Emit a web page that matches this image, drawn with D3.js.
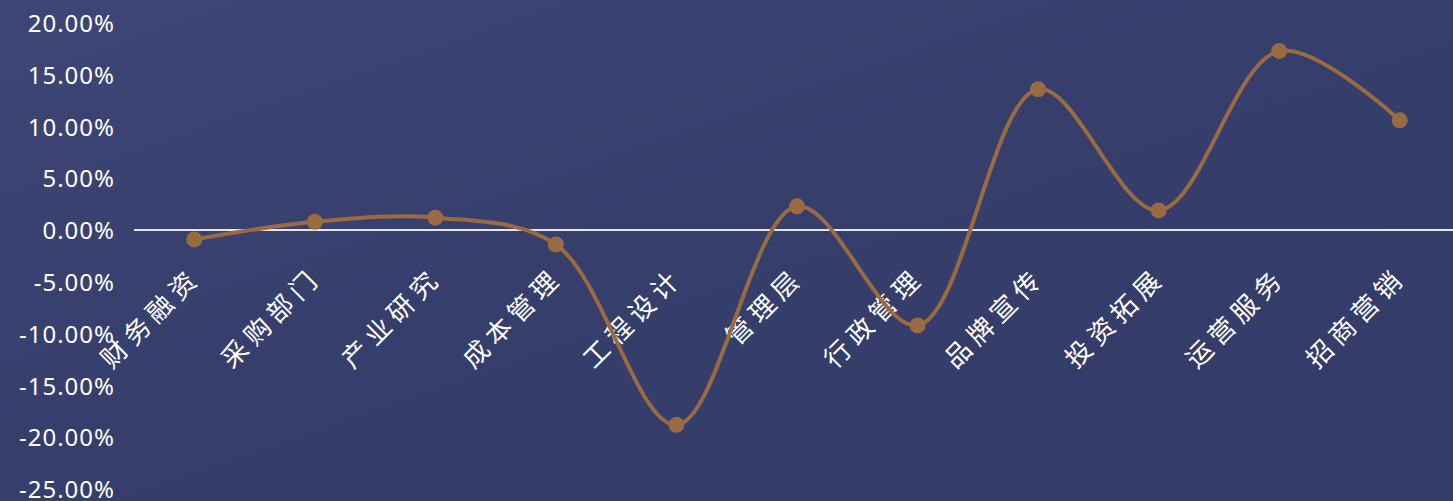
<!DOCTYPE html>
<html>
<head>
<meta charset="utf-8">
<script src="https://cdn.jsdelivr.net/npm/d3@7"></script>
<style>
  html, body { margin: 0; padding: 0; background: #343c6a; overflow: hidden; }
  svg { display: block; font-family: "Noto Sans CJK SC", "Noto Sans", sans-serif; }
</style>
</head>
<body>
<div id="chart"></div>
<script>
const categories = ["财务融资", "采购部门", "产业研究", "成本管理", "工程设计", "管理层",
    "行政管理", "品牌宣传", "投资拓展", "运营服务", "招商营销"];
const growth = [-0.9, 0.8, 1.2, -1.4, -18.8, 2.3, -9.2, 13.6, 1.9, 17.3, 10.6];
const yTicks = [20, 15, 10, 5, 0, -5, -10, -15, -20, -25];

const width = 1453, height = 501;
const margin = {top: 23, right: -7, bottom: 12, left: 134};

const svg = d3.select("#chart")
    .append("svg")
    .attr("width", width)
    .attr("height", height);

// background
let defs = svg.append("defs");
let grad = defs.append("linearGradient")
    .attr("id", "bg")
    .attr("x1", 0).attr("y1", 0).attr("x2", 1).attr("y2", 1);
grad.append("stop").attr("offset", "0%").attr("stop-color", "#3e4677");
grad.append("stop").attr("offset", "45%").attr("stop-color", "#363e6c");
grad.append("stop").attr("offset", "100%").attr("stop-color", "#333b68");
svg.append("rect")
    .attr("width", width)
    .attr("height", height)
    .attr("fill", "url(#bg)");

let xScale = d3.scalePoint()
    .domain(categories)
    .range([margin.left, width - margin.right])
    .padding(0.5);

let yScale = d3.scaleLinear()
    .domain([-25, 20])
    .range([489, margin.top]);

// y axis labels
let yAxis = svg.append("g")
    .attr("transform", `translate(115,0)`)
    .call(d3.axisLeft(yScale).tickValues(yTicks).tickSize(0).tickPadding(0)
        .tickFormat(function (d) { return d.toFixed(2) + "%"; }));
yAxis.select(".domain").remove();
yAxis.selectAll("text")
    .attr("fill", "#ffffff")
    .attr("dy", "0.36em")
    .style("font-size", "24px")
    .style("letter-spacing", "1px")
    .style("font-family", "Noto Sans, sans-serif");

// zero line
svg.append("line")
    .attr("x1", margin.left)
    .attr("x2", width)
    .attr("y1", yScale(0))
    .attr("y2", yScale(0))
    .attr("stroke", "#e6e6e6")
    .attr("stroke-width", 2);

// category labels
svg.append("g")
    .selectAll("text")
    .data(categories)
    .join("text")
    .attr("transform", function (d) {
        return `translate(${xScale(d) + 8},${yScale(0) + 49}) rotate(-45)`;
    })
    .attr("text-anchor", "end")
    .attr("fill", "#ffffff")
    .style("font-size", "26px")
    .style("letter-spacing", "6px")
    .text(function (d) { return d; });

let line = d3.line()
    .x(function (d, i) { return xScale(categories[i]); })
    .y(function (d) { return yScale(d); })
    .curve(d3.curveCatmullRom.alpha(0.5));

svg.append("path")
    .datum(growth)
    .attr("fill", "none")
    .attr("stroke", "#9a6b42")
    .attr("stroke-width", 4)
    .attr("d", line);

svg.append("g")
    .selectAll("circle")
    .data(growth)
    .join("circle")
    .attr("cx", function (d, i) { return xScale(categories[i]); })
    .attr("cy", function (d) { return yScale(d); })
    .attr("r", 8)
    .attr("fill", "#9a6b42");
</script>
</body>
</html>
